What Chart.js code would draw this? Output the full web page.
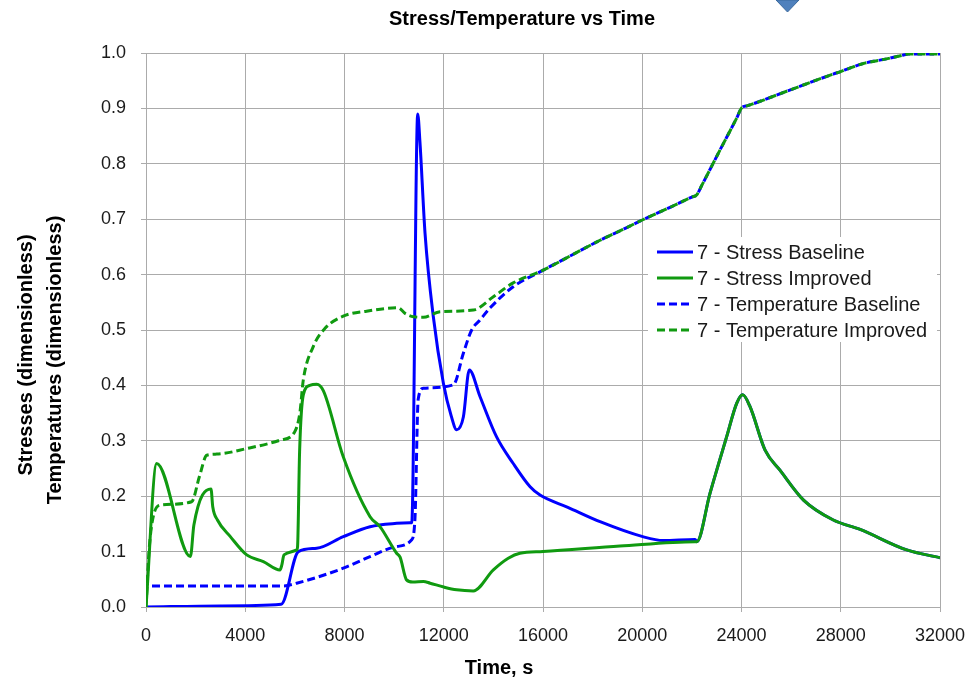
<!DOCTYPE html>
<html>
<head>
<meta charset="utf-8">
<script src="https://cdn.jsdelivr.net/npm/chart.js@4.4.1/dist/chart.umd.min.js"></script>
<style>
    html, body { margin: 0; padding: 0; background: #fff; }
    #wrap { width: 980px; height: 681px; }
</style>
</head>
<body>
<div id="wrap"><canvas id="myChart" width="980" height="681"></canvas></div>
<script>
// values (time in s, dimensionless values)
const xTicks = [0, 4000, 8000, 12000, 16000, 20000, 24000, 28000, 32000];
const yTicks = [0, 0.1, 0.2, 0.3, 0.4, 0.5, 0.6, 0.7, 0.8, 0.9, 1.0];

const stressBaselineTime  = [0, 3000, 5450, 6140, 6880, 7950, 9030, 10100, 10640, 10710, 10950, 11040, 11245, 11580, 11985, 12300, 12520, 12790, 13030, 13460, 14130, 14800, 15480, 15880, 17000, 18300, 20020, 20850, 22130];
const stressBaselineValue = [0, 0.002, 0.005, 0.1, 0.106, 0.127, 0.145, 0.151, 0.152, 0.152, 0.89, 0.84, 0.675, 0.524, 0.404, 0.345, 0.32, 0.343, 0.428, 0.38, 0.307, 0.259, 0.217, 0.202, 0.18, 0.154, 0.127, 0.12, 0.122];

const stressImprovedTime  = [0, 430, 1790, 1930, 2620, 2690, 2880, 3400, 4060, 4730, 5400, 5470, 5560, 6080, 6110, 6190, 6340, 6600, 6880, 7150, 7950, 9030, 9430, 10100, 10240, 10500, 10750, 11180, 11450, 12000, 12520, 13190, 14000, 14600, 15070, 16000, 19100, 22130];
const stressImprovedValue = [0, 0.259, 0.091, 0.148, 0.213, 0.181, 0.157, 0.127, 0.094, 0.082, 0.067, 0.075, 0.094, 0.103, 0.11, 0.28, 0.383, 0.4, 0.402, 0.39, 0.271, 0.163, 0.145, 0.097, 0.09, 0.049, 0.045, 0.046, 0.043, 0.036, 0.031, 0.029, 0.067, 0.088, 0.097, 0.1, 0.11, 0.118];

// both stress curves run together after ~22200 s
const stressTailTime  = [22200, 22730, 23400, 23810, 24050, 24340, 24950, 25550, 26500, 27700, 28780, 30660, 32000];
const stressTailValue = [0.118, 0.205, 0.307, 0.368, 0.383, 0.362, 0.283, 0.247, 0.193, 0.157, 0.14, 0.103, 0.089];

const tempBaselineTime  = [0, 5530, 6070, 7950, 9030, 10100, 10700, 10840, 10970, 11180, 12390, 12790, 13125, 13460, 13870, 14800];
const tempBaselineValue = [0.038, 0.038, 0.043, 0.07, 0.091, 0.109, 0.121, 0.16, 0.375, 0.395, 0.401, 0.458, 0.5, 0.518, 0.54, 0.578];

const tempImprovedTime  = [0, 120, 300, 600, 1840, 2150, 2450, 2850, 4060, 5400, 5990, 6200, 6340, 6740, 7215, 7950, 8890, 10170, 10440, 10780, 11180, 11850, 13190, 14000, 14800];
const tempImprovedValue = [0, 0.1, 0.165, 0.184, 0.19, 0.235, 0.274, 0.276, 0.286, 0.301, 0.316, 0.35, 0.41, 0.47, 0.503, 0.525, 0.534, 0.54, 0.53, 0.524, 0.523, 0.533, 0.536, 0.56, 0.585];

// both temperature curves run together after ~16000 s (straight pieces with corners)
const tempTailTime  = [16010, 17150, 18300, 19200, 20020, 21100, 22000, 22200, 22400, 23100, 23800, 24010, 24250, 26000, 27700, 27970, 28200, 28910, 29800, 30500, 30730, 31000, 32000];
const tempTailValue = [0.608, 0.635, 0.662, 0.681, 0.699, 0.721, 0.740, 0.744, 0.761, 0.822, 0.882, 0.901, 0.905, 0.934, 0.962, 0.966, 0.970, 0.981, 0.989, 0.996, 0.998, 0.998, 0.998];

const seriesNames = ['7 - Stress Baseline', '7 - Stress Improved', '7 - Temperature Baseline', '7 - Temperature Improved'];

const BLUE = '#0000ff';
const GREEN = '#109a10';
const FONT = "'Liberation Sans', Arial, sans-serif";

function points(times, values) {
    return times.map((t, i) => ({ x: t, y: values[i] }));
}

const legendItems = [
    { text: seriesNames[0], color: BLUE, dash: [] },
    { text: seriesNames[1], color: GREEN, dash: [] },
    { text: seriesNames[2], color: BLUE, dash: [8, 4] },
    { text: seriesNames[3], color: GREEN, dash: [8, 4] }
];

const decorations = {
    id: 'decorations',
    afterDraw(chart) {
        const ctx = chart.ctx;
        ctx.save();

        // chart title
        ctx.fillStyle = '#000';
        ctx.textAlign = 'center';
        ctx.textBaseline = 'middle';
        ctx.font = 'bold 20px ' + FONT;
        ctx.fillText('Stress/Temperature vs Time', 522, 19);

        // x axis title
        ctx.font = 'bold 20px ' + FONT;
        ctx.fillText('Time, s', 499, 668);

        // y axis titles (two lines, rotated)
        ctx.save();
        ctx.translate(26, 355);
        ctx.rotate(-Math.PI / 2);
        ctx.fillText('Stresses (dimensionless)', 0, 0);
        ctx.restore();
        ctx.save();
        ctx.translate(55, 360);
        ctx.rotate(-Math.PI / 2);
        ctx.fillText('Temperatures (dimensionless)', 0, 0);
        ctx.restore();

        // legend
        ctx.fillStyle = '#fff';
        ctx.fillRect(648, 237, 289, 105);
        ctx.font = '20px ' + FONT;
        ctx.textAlign = 'left';
        legendItems.forEach((item, i) => {
            const y = 252 + i * 26;
            ctx.beginPath();
            ctx.setLineDash(item.dash);
            ctx.strokeStyle = item.color;
            ctx.lineWidth = 3;
            ctx.moveTo(657, y);
            ctx.lineTo(693, y);
            ctx.stroke();
            ctx.setLineDash([]);
            ctx.fillStyle = '#1a1a1a';
            ctx.fillText(item.text, 697, y + 1);
        });

        // little shape cut off at the top edge
        ctx.beginPath();
        ctx.moveTo(776, 0);
        ctx.lineTo(799, 0);
        ctx.lineTo(787.5, 12);
        ctx.closePath();
        ctx.fillStyle = '#4f81bd';
        ctx.fill();
        ctx.strokeStyle = '#3b6a9e';
        ctx.lineWidth = 1;
        ctx.stroke();

        ctx.restore();
    }
};

const ctx = document.getElementById('myChart').getContext('2d');

new Chart(ctx, {
    type: 'line',
    data: {
        datasets: [
            {
                label: seriesNames[0],
                data: points(stressBaselineTime.concat(stressTailTime), stressBaselineValue.concat(stressTailValue)),
                borderColor: BLUE,
                borderWidth: 3,
                order: 2
            },
            {
                label: seriesNames[1],
                data: points(stressImprovedTime.concat(stressTailTime), stressImprovedValue.concat(stressTailValue)),
                borderColor: GREEN,
                borderWidth: 3,
                order: 0
            },
            {
                label: seriesNames[2],
                data: points(tempBaselineTime.concat(tempTailTime), tempBaselineValue.concat(tempTailValue)),
                borderColor: BLUE,
                borderWidth: 3,
                borderDash: [8, 4],
                borderDashOffset: 6,
                order: 3
            },
            {
                label: seriesNames[3],
                data: points(tempImprovedTime.concat(tempTailTime), tempImprovedValue.concat(tempTailValue)),
                borderColor: GREEN,
                borderWidth: 3,
                borderDash: [8, 4],
                order: 1
            }
        ]
    },
    options: {
        responsive: false,
        animation: false,
        events: [],
        layout: {
            padding: { top: 53, right: 40, left: 0, bottom: 0 }
        },
        elements: {
            point: { radius: 0 },
            line: { cubicInterpolationMode: 'monotone', fill: false, borderCapStyle: 'butt' }
        },
        scales: {
            x: {
                type: 'linear',
                min: xTicks[0],
                max: xTicks[xTicks.length - 1],
                afterBuildTicks(scale) {
                    scale.ticks = xTicks.map(v => ({ value: v }));
                },
                afterFit(scale) {
                    scale.height = 74;
                },
                grid: { color: '#ababab', lineWidth: 1, tickLength: 5 },
                border: { color: '#ababab', width: 1 },
                ticks: {
                    color: '#1a1a1a',
                    font: { family: FONT, size: 18 },
                    padding: 13,
                    maxRotation: 0,
                    callback: v => String(v)
                }
            },
            y: {
                type: 'linear',
                min: yTicks[0],
                max: yTicks[yTicks.length - 1],
                afterBuildTicks(scale) {
                    scale.ticks = yTicks.map(v => ({ value: v }));
                },
                afterFit(scale) {
                    scale.width = 146;
                },
                grid: { color: '#ababab', lineWidth: 1, tickLength: 5 },
                border: { color: '#ababab', width: 1 },
                ticks: {
                    color: '#1a1a1a',
                    font: { family: FONT, size: 18 },
                    padding: 15,
                    callback: v => v.toFixed(1)
                }
            }
        },
        plugins: {
            legend: { display: false },
            title: { display: false },
            tooltip: { enabled: false }
        }
    },
    plugins: [decorations]
});
</script>
</body>
</html>
